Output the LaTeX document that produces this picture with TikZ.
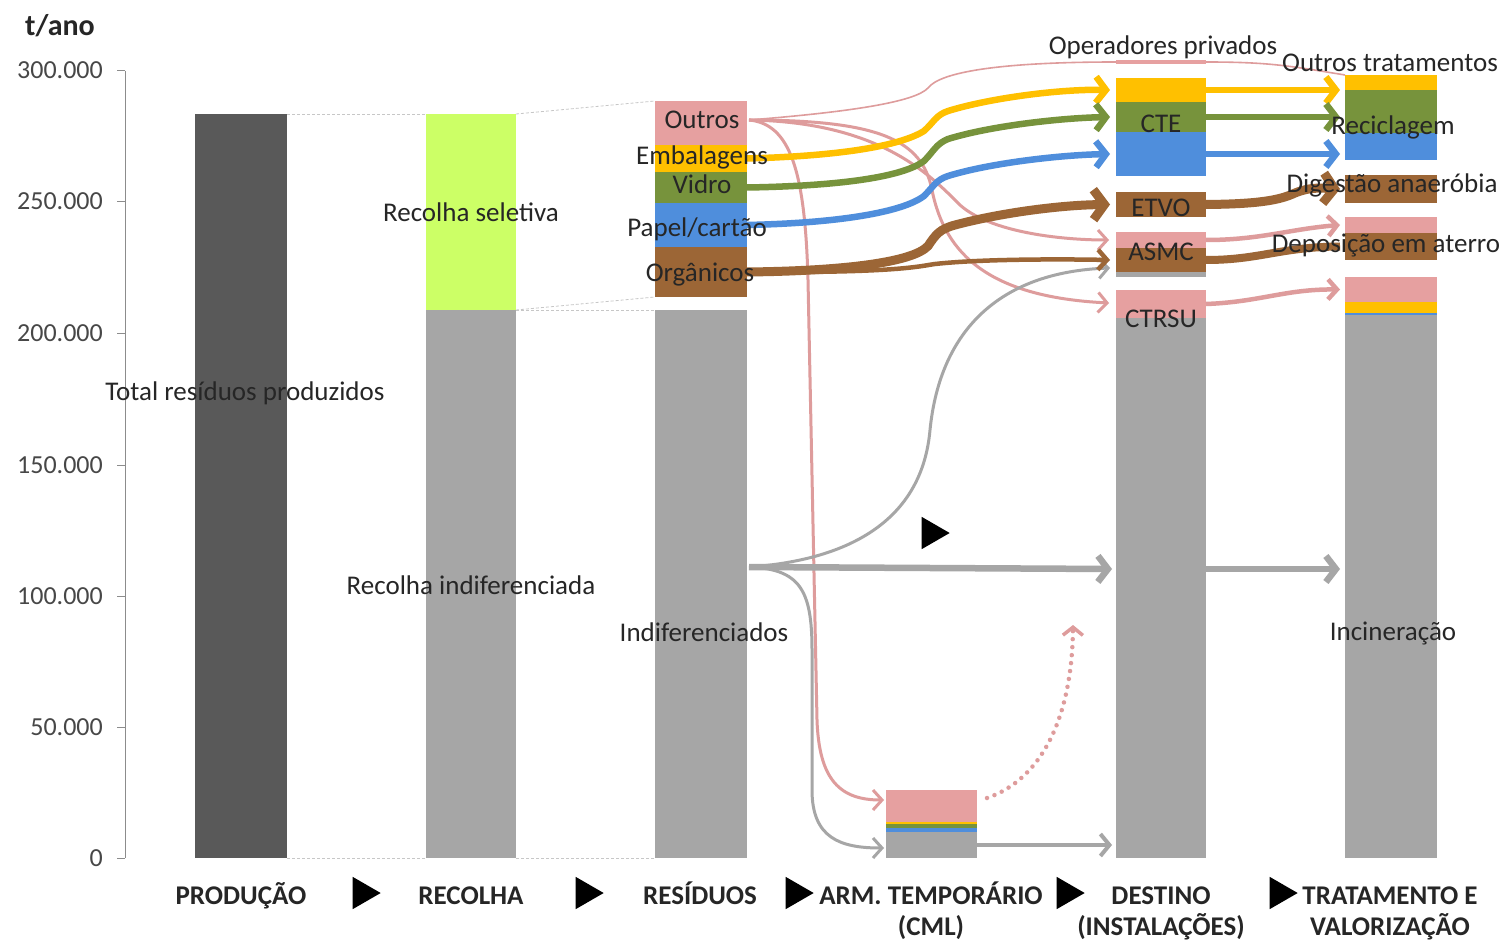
\documentclass[tikz,border=0pt]{standalone}
\usepackage{fontspec}
\setmainfont{Carlito}
\usetikzlibrary{arrows.meta,shapes.geometric}
\definecolor{cdark}{HTML}{595959}
\definecolor{cgray}{HTML}{A6A6A6}
\definecolor{clime}{HTML}{CCFF66}
\definecolor{cpink}{HTML}{E6A0A0}
\definecolor{cyel}{HTML}{FFC000}
\definecolor{cgreen}{HTML}{77933C}
\definecolor{cblue}{HTML}{4F8EDC}
\definecolor{cbrown}{HTML}{9C6636}
\definecolor{ctext}{HTML}{262626}
\definecolor{cline}{HTML}{DE9C9C}
\definecolor{caxis}{HTML}{8C8C8C}
\newcommand\segnode[6]{\node[seg,fill=#6,minimum width=#4pt,minimum height=#5pt] (#1) at (#2,#3) {};}
\begin{document}
\begin{tikzpicture}[x=1pt,y=-1pt,
 seg/.style={inner sep=0,outer sep=0,anchor=north west,draw=none,rectangle},
 lab/.style={font=\fontsize{27}{32}\selectfont,text=ctext,inner sep=0,anchor=base},
 ticklab/.style={font=\fontsize{26}{30}\selectfont,text=ctext!85,anchor=base east,inner sep=0},
 stage/.style={font=\bfseries\fontsize{27}{32}\selectfont,text=ctext,inner sep=0,anchor=base},
 tri/.style={isosceles triangle,isosceles triangle apex angle=60,fill=black,minimum height=28pt,inner sep=0},
 guide/.style={draw=black!22,line width=0.8pt,dash pattern=on 3pt off 2pt},
 fthick/.style={line width=6.5pt,-{Straight Barb[length=10pt,width=26pt]}},
 fbig/.style={line width=9pt,-{Straight Barb[length=11pt,width=30pt]}},
 fmid/.style={line width=4.5pt,-{Straight Barb[length=9pt,width=20pt]}},
 fthin/.style={line width=3pt,-{Straight Barb[length=9pt,width=20pt]}},
 fhair/.style={line width=1.6pt},
]
\useasboundingbox (0,0) rectangle (1504,941);
\fill[white] (0,0) rectangle (1504,941);

% axis
\draw[caxis,line width=1pt] (125,71) -- (125,858);
\foreach \yy/\tt/\nm in {71/300.000/a,202/250.000/b,333/200.000/c,465/150.000/d,596/100.000/e,727/50.000/f,858/0/g}{
  \draw[caxis,line width=1pt] (117,\yy) -- (125,\yy);
  \node[ticklab] (tick-\nm) at (103,\yy+8) {\tt};
}
\node[stage,font=\bfseries\fontsize{30}{34}\selectfont] (unit) at (60,36) {t/ano};

% bars
\segnode{prod}{195}{114}{92}{744}{cdark}
\segnode{recsel}{426}{114}{90}{196}{clime}
\segnode{recind}{426}{310}{90}{548}{cgray}
\segnode{r-out}{655}{101}{92}{44}{cpink}
\segnode{r-emb}{655}{145}{92}{27}{cyel}
\segnode{r-vid}{655}{172}{92}{31}{cgreen}
\segnode{r-pap}{655}{203}{92}{44}{cblue}
\segnode{r-org}{655}{247}{92}{50}{cbrown}
\segnode{r-ind}{655}{310}{92}{548}{cgray}
\segnode{arm-p}{886}{790}{91}{32}{cpink}
\segnode{arm-y}{886}{822}{91}{2}{cyel}
\segnode{arm-g}{886}{824}{91}{4}{cgreen}
\segnode{arm-b}{886}{828}{91}{4}{cblue}
\segnode{arm-gr}{886}{832}{91}{26}{cgray}
\segnode{d-op}{1116}{60}{90}{4}{cpink}
\segnode{d-cy}{1116}{78}{90}{24}{cyel}
\segnode{d-cg}{1116}{102}{90}{30}{cgreen}
\segnode{d-cb}{1116}{132}{90}{44}{cblue}
\segnode{d-etvo}{1116}{192}{90}{25}{cbrown}
\segnode{d-ap}{1116}{232}{90}{16}{cpink}
\segnode{d-ab}{1116}{248}{90}{24}{cbrown}
\segnode{d-ag}{1116}{272}{90}{5}{cgray}
\segnode{d-tp}{1116}{290}{90}{28}{cpink}
\segnode{d-tg}{1116}{318}{90}{540}{cgray}
\segnode{t-y}{1345}{75}{92}{15}{cyel}
\segnode{t-g}{1345}{90}{92}{43}{cgreen}
\segnode{t-b}{1345}{133}{92}{27}{cblue}
\segnode{t-da}{1345}{175}{92}{28}{cbrown}
\segnode{t-dp}{1345}{217}{92}{16}{cpink}
\segnode{t-db}{1345}{233}{92}{27}{cbrown}
\segnode{t-ip}{1345}{277}{92}{25}{cpink}
\segnode{t-iy}{1345}{302}{92}{11}{cyel}
\segnode{t-ib}{1345}{313}{92}{2}{cblue}
\segnode{t-ig}{1345}{315}{92}{543}{cgray}

% guides
\draw[guide] (prod.north east) -- (recsel.north west);
\draw[guide] (recsel.north east) -- (r-out.north west);
\draw[guide] (recind.north east) -- (r-org.south west);
\draw[guide] (recind.north east) -- (r-ind.north west);
\draw[guide] (prod.south east) -- (recind.south west);
\draw[guide] (recind.south east) -- (r-ind.south west);

% flow anchor coordinates
\coordinate (o-out) at (749,120);
\coordinate (o-ind) at (749,567);
\coordinate (i-asmc-p) at (1109,240);
\coordinate (i-asmc-g) at (1110,268);
\coordinate (i-ctrsu) at (1109,303);
\coordinate (i-arm-p) at (884,800);
\coordinate (i-arm-g) at (884,848);
\coordinate (i-dest) at (1112,569);
\coordinate (o-dest) at (1206,569);
\coordinate (i-inc) at (1340,569);
\coordinate (dot-s) at (987,798);
\coordinate (dot-e) at (1073,625);

% flows RESIDUOS -> DESTINO
\draw[cline,fhair] (o-out) .. controls (850,112) and (915,102) .. (928,88) .. controls (940,72) and (1000,62) .. (d-op.west);
\draw[cline,fhair] (d-op.east) .. controls (1270,62) and (1290,66) .. (t-y.north west);
\draw[cline,fthin] (o-out) .. controls (880,122) and (930,175) .. (960,205) .. controls (990,232) and (1060,240) .. (i-asmc-p);
\draw[cline,fthin] (o-out) .. controls (880,120) and (922,140) .. (932,190) .. controls (945,255) and (990,297) .. (i-ctrsu);
\draw[cline,fthin] (o-out) .. controls (790,124) and (805,170) .. (808,280) -- (817,720) .. controls (819,780) and (840,800) .. (i-arm-p);
\draw[cgray,fthin] (o-ind) .. controls (800,569) and (812,590) .. (812,650) -- (812,790) .. controls (812,838) and (840,848) .. (i-arm-g);
\draw[cgray,fthin] (o-ind) .. controls (850,560) and (922,520) .. (930,430) .. controls (940,330) and (1000,272) .. (i-asmc-g);
\draw[cgray,fthick] (o-ind) -- (i-dest);

\draw[cyel,fthick] (r-emb.east) .. controls (840,156) and (900,146) .. (924,131) .. controls (934,122) and (936,115) .. (948,111) .. controls (990,98) and (1060,89) .. ([xshift=-6pt]d-cy.west);
\draw[cgreen,fthick] (r-vid.east) .. controls (840,186) and (903,177) .. (924,161) .. controls (934,151) and (936,144) .. (948,139) .. controls (990,126) and (1060,118) .. ([xshift=-6pt]d-cg.west);
\draw[cblue,fthick] (r-pap.east) .. controls (840,223) and (903,212) .. (924,196) .. controls (934,186) and (936,180) .. (948,176) .. controls (990,163) and (1060,155) .. ([xshift=-6pt]d-cb.west);
\draw[cbrown,fmid] (r-org.east) .. controls (900,273) and (920,266) .. (935,264) .. controls (980,259) and (1060,259) .. ([xshift=-6pt]d-ab.west);
\draw[cbrown,fbig] (r-org.east) .. controls (840,271) and (912,263) .. (928,246) .. controls (936,234) and (940,229) .. (955,225) .. controls (1000,213) and (1060,205) .. ([xshift=-6pt]d-etvo.west);

% ARM
\draw[cgray,line width=4pt,-{Straight Barb[length=9pt,width=22pt]}] (arm-gr.east) -- ([xshift=-4pt]d-tg.west |- arm-gr.east);
\draw[cline,line width=4.5pt,dash pattern=on 0pt off 8pt,line cap=round,-{Straight Barb[length=8pt,width=20pt,line width=3.5pt,line cap=butt]}] (dot-s) .. controls (1040,780) and (1072,720) .. (dot-e);

% DESTINO -> TRATAMENTO
\draw[cyel,fthick] (d-cy.east) -- ([xshift=-5pt]t-g.west |- d-cy.east);
\draw[cgreen,fthick] (d-cg.east) -- ([xshift=-5pt]t-g.west |- d-cg.east);
\draw[cblue,fthick] (d-cb.east) -- ([xshift=-5pt]t-g.west |- d-cb.east);
\draw[cbrown,fbig] (d-etvo.east) .. controls (1260,204) and (1280,200) .. (1295,193) .. controls (1310,187) and (1320,188) .. ([xshift=-5pt]t-da.west);
\draw[cline,fmid] (d-ap.east) .. controls (1260,240) and (1290,229) .. ([xshift=-5pt]t-dp.west);
\draw[cbrown,line width=8pt] (d-ab.east) .. controls (1260,260) and (1280,247) .. ([xshift=-5pt]t-db.west);
\draw[cline,fmid] (d-tp.east) .. controls (1260,302) and (1285,289) .. ([xshift=-5pt]t-ip.west);
\draw[cgray,fthick] (o-dest) -- (i-inc);

% labels
\node[lab] (l-total) at (245,400) {Total resíduos produzidos};
\node[lab] (l-rsel) at (471,222) {Recolha seletiva};
\node[lab] (l-rind) at (471,594) {Recolha indiferenciada};
\node[lab] (l-out) at (702,129) {Outros};
\node[lab] (l-emb) at (702,165) {Embalagens};
\node[lab] (l-vid) at (702,194) {Vidro};
\node[lab] (l-pap) at (697,237) {Papel/cartão};
\node[lab] (l-org) at (700,281) {Orgânicos};
\node[lab] (l-ind) at (704,641) {Indiferenciados};
\node[lab] (l-op) at (1163,55) {Operadores privados};
\node[lab] (l-ot) at (1390,72) {Outros tratamentos};
\node[lab] (l-cte) at (1161,133) {CTE};
\node[lab] (l-rec) at (1393,135) {Reciclagem};
\node[lab] (l-dig) at (1392,193) {Digestão anaeróbia};
\node[lab] (l-etvo) at (1161,217) {ETVO};
\node[lab] (l-dep) at (1386,253) {Deposição em aterro};
\node[lab] (l-asmc) at (1161,261) {ASMC};
\node[lab] (l-ctrsu) at (1161,327) {CTRSU};
\node[lab] (l-inc) at (1393,640) {Incineração};

% stages
\node[stage] (s-prod) at (241,904) {PRODUÇÃO};
\node[stage] (s-rec) at (471,904) {RECOLHA};
\node[stage] (s-res) at (700,904) {RESÍDUOS};
\node[stage] (s-arm) at (931,904) {ARM. TEMPORÁRIO};
\node[stage] (s-arm2) at (931,935) {(CML)};
\node[stage] (s-dest) at (1161,904) {DESTINO};
\node[stage] (s-dest2) at (1161,935) {(INSTALAÇÕES)};
\node[stage] (s-trat) at (1390,904) {TRATAMENTO E};
\node[stage] (s-trat2) at (1390,935) {VALORIZAÇÃO};
\node[tri] (tr1) at (362,893) {};
\node[tri] (tr2) at (585,893) {};
\node[tri] (tr3) at (795,893) {};
\node[tri] (tr4) at (1066,893) {};
\node[tri] (tr5) at (1279,893) {};
\node[tri] (tr6) at (931,533) {};
\end{tikzpicture}
\end{document}
